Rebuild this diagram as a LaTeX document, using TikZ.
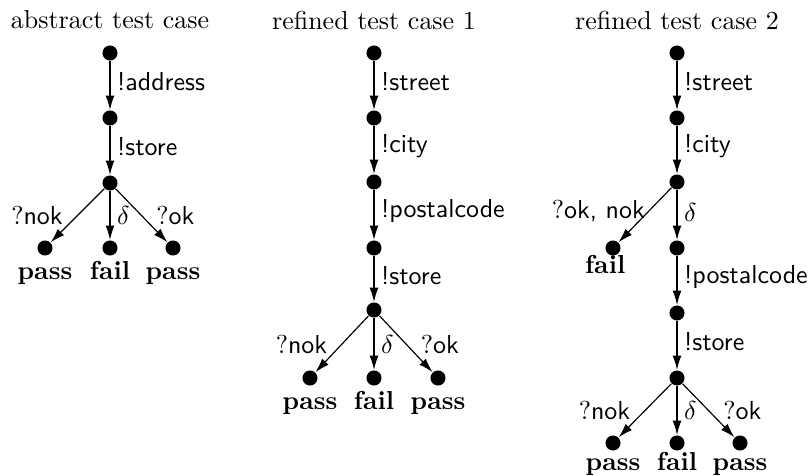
\documentclass[tikz,border=0pt]{standalone}
\usetikzlibrary{arrows.meta}
\begin{document}
\begin{tikzpicture}[x=0.385pt,y=-0.385pt,
  st/.style={circle,fill=black,inner sep=0pt,minimum size=5.8pt},
  tr/.style={-{Latex[length=5.5pt,width=3.4pt]},line width=0.45pt},
  lab/.style={font=\sffamily,inner sep=1pt},
  verdict/.style={font=\bfseries,anchor=base,inner sep=0pt},
  ttl/.style={inner sep=0pt}]
\useasboundingbox (0,0) rectangle (811,475);
% ---------- panel 1 ----------
\node[ttl] (t1) at (110,20) {abstract test case};
\node[st] (a1) at (110,53) {};
\node[st] (a2) at (110,118) {};
\node[st] (a3) at (110,183) {};
\node[st] (a4) at (45,248) {};
\node[st] (a5) at (110,248) {};
\node[st] (a6) at (173,248) {};
\draw[tr] (a1) -- node[lab,anchor=west,pos=0.42,xshift=1.5pt] (la1) {!address} (a2);
\draw[tr] (a2) -- node[lab,anchor=west,pos=0.42,xshift=1.5pt] (la2) {!store} (a3);
\draw[tr] (a3) -- node[lab,anchor=east,xshift=-4.5pt] (la3) {{\rmfamily ?}nok} (a4);
\draw[tr] (a3) -- node[lab,anchor=west,xshift=1.5pt] (la4) {$\delta$} (a5);
\draw[tr] (a3) -- node[lab,anchor=west,xshift=4.5pt] (la5) {{\rmfamily ?}ok} (a6);
\node[verdict] (v1) at ([yshift=-12pt]a4.center) {pass};
\node[verdict] (v2) at ([yshift=-12pt]a5.center) {fail};
\node[verdict] (v3) at ([yshift=-12pt]a6.center) {pass};
% ---------- panel 2 ----------
\node[ttl] (t2) at (374,20) {refined test case 1};
\node[st] (b1) at (374,53) {};
\node[st] (b2) at (374,118) {};
\node[st] (b3) at (374,182) {};
\node[st] (b4) at (374,248) {};
\node[st] (b5) at (374,310) {};
\node[st] (b6) at (310,378) {};
\node[st] (b7) at (374,378) {};
\node[st] (b8) at (438,378) {};
\draw[tr] (b1) -- node[lab,anchor=west,pos=0.42,xshift=1.5pt] (lb1) {!street} (b2);
\draw[tr] (b2) -- node[lab,anchor=west,pos=0.42,xshift=1.5pt] (lb2) {!city} (b3);
\draw[tr] (b3) -- node[lab,anchor=west,pos=0.42,xshift=1.5pt] (lb3) {!postalcode} (b4);
\draw[tr] (b4) -- node[lab,anchor=west,pos=0.42,xshift=1.5pt] (lb4) {!store} (b5);
\draw[tr] (b5) -- node[lab,anchor=east,xshift=-4.5pt] (lb5) {{\rmfamily ?}nok} (b6);
\draw[tr] (b5) -- node[lab,anchor=west,xshift=1.5pt] (lb6) {$\delta$} (b7);
\draw[tr] (b5) -- node[lab,anchor=west,xshift=4.5pt] (lb7) {{\rmfamily ?}ok} (b8);
\node[verdict] (w1) at ([yshift=-12pt]b6.center) {pass};
\node[verdict] (w2) at ([yshift=-12pt]b7.center) {fail};
\node[verdict] (w3) at ([yshift=-12pt]b8.center) {pass};
% ---------- panel 3 ----------
\node[ttl] (t3) at (677,20) {refined test case 2};
\node[st] (c1) at (677,53) {};
\node[st] (c2) at (677,118) {};
\node[st] (c3) at (677,182) {};
\node[st] (cf) at (613,248) {};
\node[st] (c4) at (677,248) {};
\node[st] (c5) at (677,313) {};
\node[st] (c6) at (677,378) {};
\node[st] (c7) at (613,443) {};
\node[st] (c8) at (677,443) {};
\node[st] (c9) at (740,443) {};
\draw[tr] (c1) -- node[lab,anchor=west,pos=0.42,xshift=1.5pt] (lc1) {!street} (c2);
\draw[tr] (c2) -- node[lab,anchor=west,pos=0.42,xshift=1.5pt] (lc2) {!city} (c3);
\draw[tr] (c3) -- node[lab,anchor=east,pos=0.42,xshift=-0.5pt] (lc3) {{\rmfamily ?}ok, nok} (cf);
\draw[tr] (c3) -- node[lab,anchor=west,pos=0.45,xshift=1.5pt] (lc4) {$\delta$} (c4);
\draw[tr] (c4) -- node[lab,anchor=west,pos=0.42,xshift=1.5pt] (lc5) {!postalcode} (c5);
\draw[tr] (c5) -- node[lab,anchor=west,pos=0.42,xshift=1.5pt] (lc6) {!store} (c6);
\draw[tr] (c6) -- node[lab,anchor=east,xshift=-4.5pt] (lc7) {{\rmfamily ?}nok} (c7);
\draw[tr] (c6) -- node[lab,anchor=west,xshift=1.5pt] (lc8) {$\delta$} (c8);
\draw[tr] (c6) -- node[lab,anchor=west,xshift=4.5pt] (lc9) {{\rmfamily ?}ok} (c9);
\node[verdict] (xf) at ([xshift=-3pt,yshift=-9.8pt]cf.center) {fail};
\node[verdict] (x1) at ([yshift=-10.4pt]c7.center) {pass};
\node[verdict] (x2) at ([yshift=-10.4pt]c8.center) {fail};
\node[verdict] (x3) at ([yshift=-10.4pt]c9.center) {pass};
\end{tikzpicture}
\end{document}
